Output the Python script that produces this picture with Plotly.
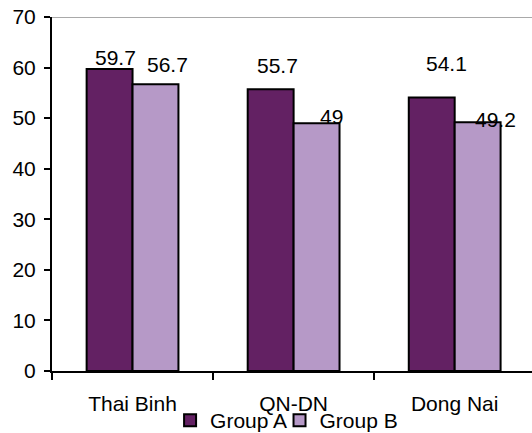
import plotly.graph_objects as go

# Sites and the share recorded for each group
sites = ["Thai Binh", "QN-DN", "Dong Nai"]
group_a = [59.7, 55.7, 54.1]
group_b = [56.7, 49, 49.2]

color_a = "#632163"
color_b = "#b699c7"

fig = go.Figure()
fig.add_trace(go.Bar(name="Group A", x=sites, y=group_a, legend="legend",
                     marker=dict(color=color_a, line=dict(color="black", width=2))))
fig.add_trace(go.Bar(name="Group B", x=sites, y=group_b, legend="legend2",
                     marker=dict(color=color_b, line=dict(color="black", width=2))))

# Value labels: (x offset px, y offset px) from each bar's top centre
bargap = 0.43
half = (1 - bargap) / 4
label_shift_a = [(6, 12), (7, 24), (15, 34)]
label_shift_b = [(12, 20), (15, 7), (18, 3)]
for i in range(len(sites)):
    for vals, sign, shifts in ((group_a, -1, label_shift_a), (group_b, 1, label_shift_b)):
        dx, dy = shifts[i]
        fig.add_annotation(x=i + sign * half, y=vals[i], xref="x", yref="y",
                           text=str(vals[i]), showarrow=False,
                           xshift=dx, yshift=dy,
                           font=dict(size=21, color="black"))

# Thin grey line across the top of the plot area
fig.add_shape(type="line", xref="paper", yref="y", x0=0, x1=1, y0=70, y1=70,
              line=dict(color="#8c8c8c", width=1.5))

legend_style = dict(orientation="h", y=-0.082, yanchor="top", xanchor="left",
                    font=dict(size=21), bgcolor="rgba(0,0,0,0)", itemwidth=30)

fig.update_layout(
    width=532, height=433,
    margin=dict(l=52, r=0, t=17, b=62, autoexpand=False),
    paper_bgcolor="white", plot_bgcolor="white",
    barmode="group", bargap=bargap, bargroupgap=0,
    font=dict(family="Liberation Sans, Arial, sans-serif", size=21, color="black"),
    showlegend=True,
    legend=dict(x=0.246, **legend_style),
    legend2=dict(x=0.474, **legend_style),
)
fig.update_xaxes(type="category", range=[-0.5, 2.48], showline=True,
                 linecolor="black", linewidth=2, ticks="outside",
                 tickson="boundaries", ticklen=7, tickwidth=2, tickcolor="black",
                 showgrid=False, ticklabelstandoff=13, zeroline=False)
fig.update_yaxes(range=[0, 70], dtick=10, showline=True, linecolor="black",
                 linewidth=2, ticks="outside", ticklen=6, tickwidth=2,
                 tickcolor="black", showgrid=False, zeroline=False,
                 ticklabelstandoff=4)

fig.write_html("out.html")
